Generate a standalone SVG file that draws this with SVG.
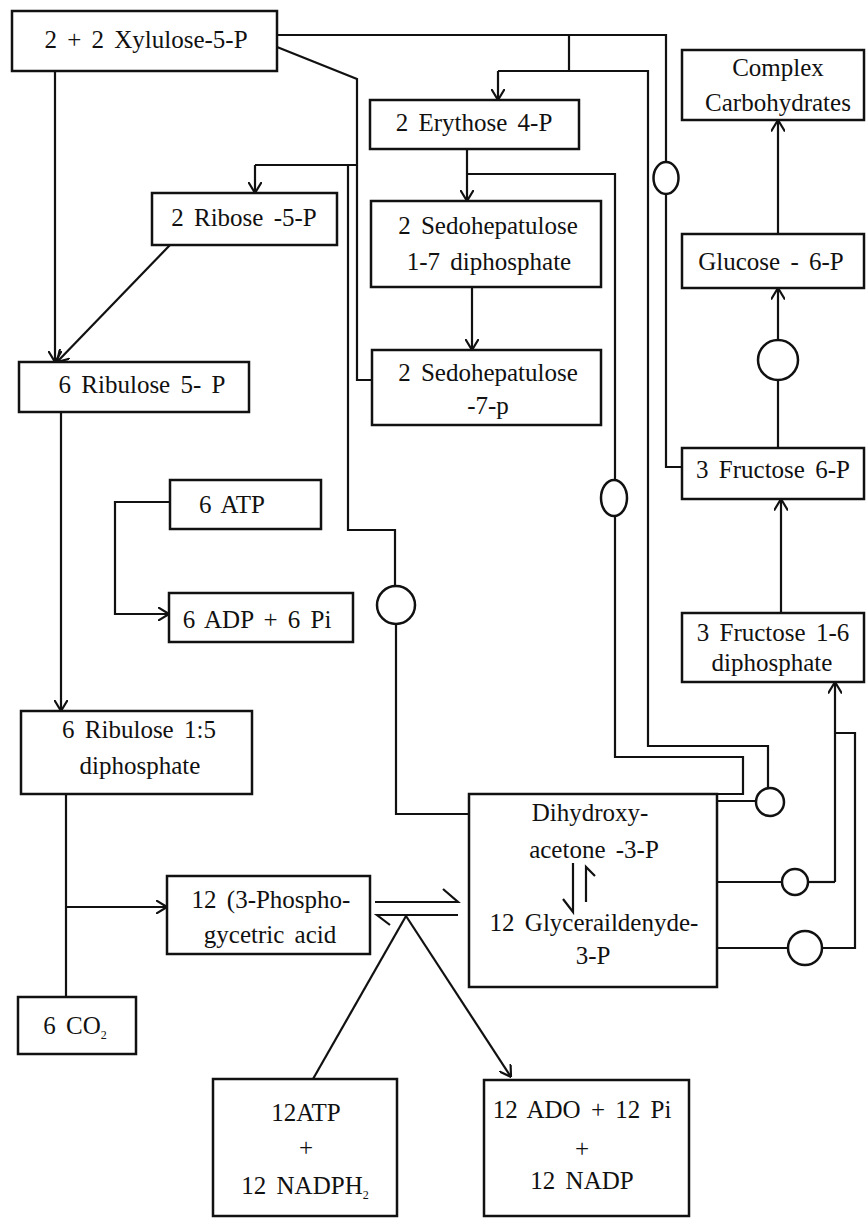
<svg xmlns="http://www.w3.org/2000/svg" width="867" height="1219" viewBox="0 0 867 1219">
<style>
.box{fill:#fff;stroke:#111;stroke-width:2.5}
.ln{fill:none;stroke:#111;stroke-width:2.2}
.arr{fill:none;stroke:#111;stroke-width:2.2;marker-end:url(#ah)}
.ov{fill:#fff;stroke:#111;stroke-width:2.5}
text{font-family:"Liberation Serif","Times New Roman",serif;font-size:25px;fill:#111;text-anchor:middle;word-spacing:4px}
.sub{font-size:12px}
</style>
<defs>
<marker id="ah" viewBox="0 0 12 14" refX="11.5" refY="7" markerWidth="12" markerHeight="14" markerUnits="userSpaceOnUse" orient="auto">
<path d="M0,0 L11.5,7 L0,14" fill="none" stroke="#111" stroke-width="2.2"/>
</marker>
</defs>
<rect width="867" height="1219" fill="#fff"/>

<g id="connectors">
<path class="ln" d="M277,35 H666 V162"/>
<ellipse class="ov" cx="666" cy="178" rx="12.5" ry="16"/>
<path class="ln" d="M666,194 V467 H682"/>
<path class="ln" d="M569,35 V71"/>
<path class="ln" d="M498,71 H648 V746 H768 V788"/>
<path class="arr" d="M498,71 V100"/>
<circle class="ov" cx="770" cy="802" r="14"/>
<path class="ln" d="M756,801 H717"/>
<path class="arr" d="M467,149 V201"/>
<path class="ln" d="M467,174 H615 V480"/>
<ellipse class="ov" cx="614" cy="498" rx="13" ry="18"/>
<path class="ln" d="M615,516 V757 H743 V794 H717"/>
<path class="arr" d="M472,287 V350"/>
<path class="ln" d="M277,47 L357,79 V380 H372"/>
<path class="ln" d="M255,165 H357"/>
<path class="arr" d="M255,165 V193"/>
<path class="ln" d="M348,165 V530 H395 V586"/>
<circle class="ov" cx="396" cy="605" r="19"/>
<path class="ln" d="M396,624 V814 H469"/>
<path class="arr" d="M55,71 V362"/>
<path class="arr" d="M170,245 L57,362"/>
<path class="arr" d="M61,412 V711"/>
<path class="arr" d="M170,502 H115 V614 H169"/>
<path class="ln" d="M66,794 V997"/>
<path class="arr" d="M66,907 H167"/>
<path class="arr" d="M778,234 V120"/>
<path class="ln" d="M778,448 V380"/>
<circle class="ov" cx="778" cy="360" r="20"/>
<path class="arr" d="M778,340 V288"/>
<path class="arr" d="M781,613 V499"/>
<path class="ln" d="M717,882 H782"/>
<circle class="ov" cx="795" cy="882" r="13"/>
<path class="ln" d="M808,882 H835"/>
<path class="arr" d="M835,882 V682"/>
<path class="ln" d="M835,733 H855 V948 H822"/>
<circle class="ov" cx="805" cy="948" r="17"/>
<path class="ln" d="M788,948 H717"/>
<path class="ln" d="M375,902 H458 L443,889"/>
<path class="ln" d="M458,915 H377 L390,925"/>
<path class="ln" d="M313,1079 L406,916"/>
<path class="arr" d="M406,916 L511,1077"/>
</g>

<g id="n-xylulose"><rect class="box" x="12" y="11" width="265" height="60"/><text x="146" y="48">2 + 2 Xylulose-5-P</text></g>
<g id="n-erythose"><rect class="box" x="370" y="100" width="209" height="49"/><text x="474" y="131">2 Erythose 4-P</text></g>
<g id="n-complex"><rect class="box" x="682" y="50" width="182" height="70"/><text x="778" y="76">Complex</text><text x="778" y="111" style="word-spacing:0">Carbohydrates</text></g>
<g id="n-ribose"><rect class="box" x="152" y="193" width="185" height="52"/><text x="244" y="226">2 Ribose -5-P</text></g>
<g id="n-sedo17"><rect class="box" x="371" y="201" width="230" height="86"/><text x="488" y="234">2 Sedohepatulose</text><text x="489" y="270">1-7 diphosphate</text></g>
<g id="n-sedo7p"><rect class="box" x="372" y="350" width="229" height="75"/><text x="488" y="381">2 Sedohepatulose</text><text x="488" y="414">-7-p</text></g>
<g id="n-glucose"><rect class="box" x="682" y="234" width="182" height="54"/><text x="771" y="270">Glucose - 6-P</text></g>
<g id="n-fructose6p"><rect class="box" x="682" y="448" width="182" height="51"/><text x="773" y="478">3 Fructose 6-P</text></g>
<g id="n-fructose16"><rect class="box" x="682" y="613" width="182" height="69"/><text x="773" y="641">3 Fructose 1-6</text><text x="772" y="671">diphosphate</text></g>
<g id="n-ribulose5p"><rect class="box" x="19" y="362" width="230" height="50"/><text x="142" y="393">6 Ribulose 5- P</text></g>
<g id="n-atp"><rect class="box" x="170" y="480" width="151" height="49"/><text x="232" y="513">6 ATP</text></g>
<g id="n-adp"><rect class="box" x="169" y="593" width="184" height="49"/><text x="257" y="628">6 ADP + 6 Pi</text></g>
<g id="n-rubp"><rect class="box" x="21" y="711" width="231" height="83"/><text x="139" y="738">6 Ribulose 1:5</text><text x="140" y="774">diphosphate</text></g>
<g id="n-pga"><rect class="box" x="167" y="876" width="203" height="78"/><text x="271" y="908">12 (3-Phospho-</text><text x="270" y="943">gycetric acid</text></g>
<g id="n-co2"><rect class="box" x="18" y="997" width="118" height="57"/><text x="75" y="1034">6 CO<tspan class="sub" dy="5">2</tspan></text></g>
<g id="n-dhap"><rect class="box" x="469" y="794" width="248" height="193"/><text x="590" y="821">Dihydroxy-</text><text x="594" y="858">acetone -3-P</text>
<path class="ln" d="M573,863 V912 L563,899"/>
<path class="ln" d="M586,902 V867 L595,876"/>
<text x="594" y="931">12 Glyceraildenyde-</text><text x="593" y="964">3-P</text></g>
<g id="n-atpnadph"><rect class="box" x="213" y="1079" width="184" height="137"/><text x="306" y="1121">12ATP</text><text x="306" y="1156">+</text><text x="305" y="1194">12 NADPH<tspan class="sub" dy="5">2</tspan></text></g>
<g id="n-adpnadp"><rect class="box" x="484" y="1080" width="205" height="136"/><text x="582" y="1118">12 ADO + 12 Pi</text><text x="582" y="1157">+</text><text x="582" y="1189">12 NADP</text></g>
</svg>
